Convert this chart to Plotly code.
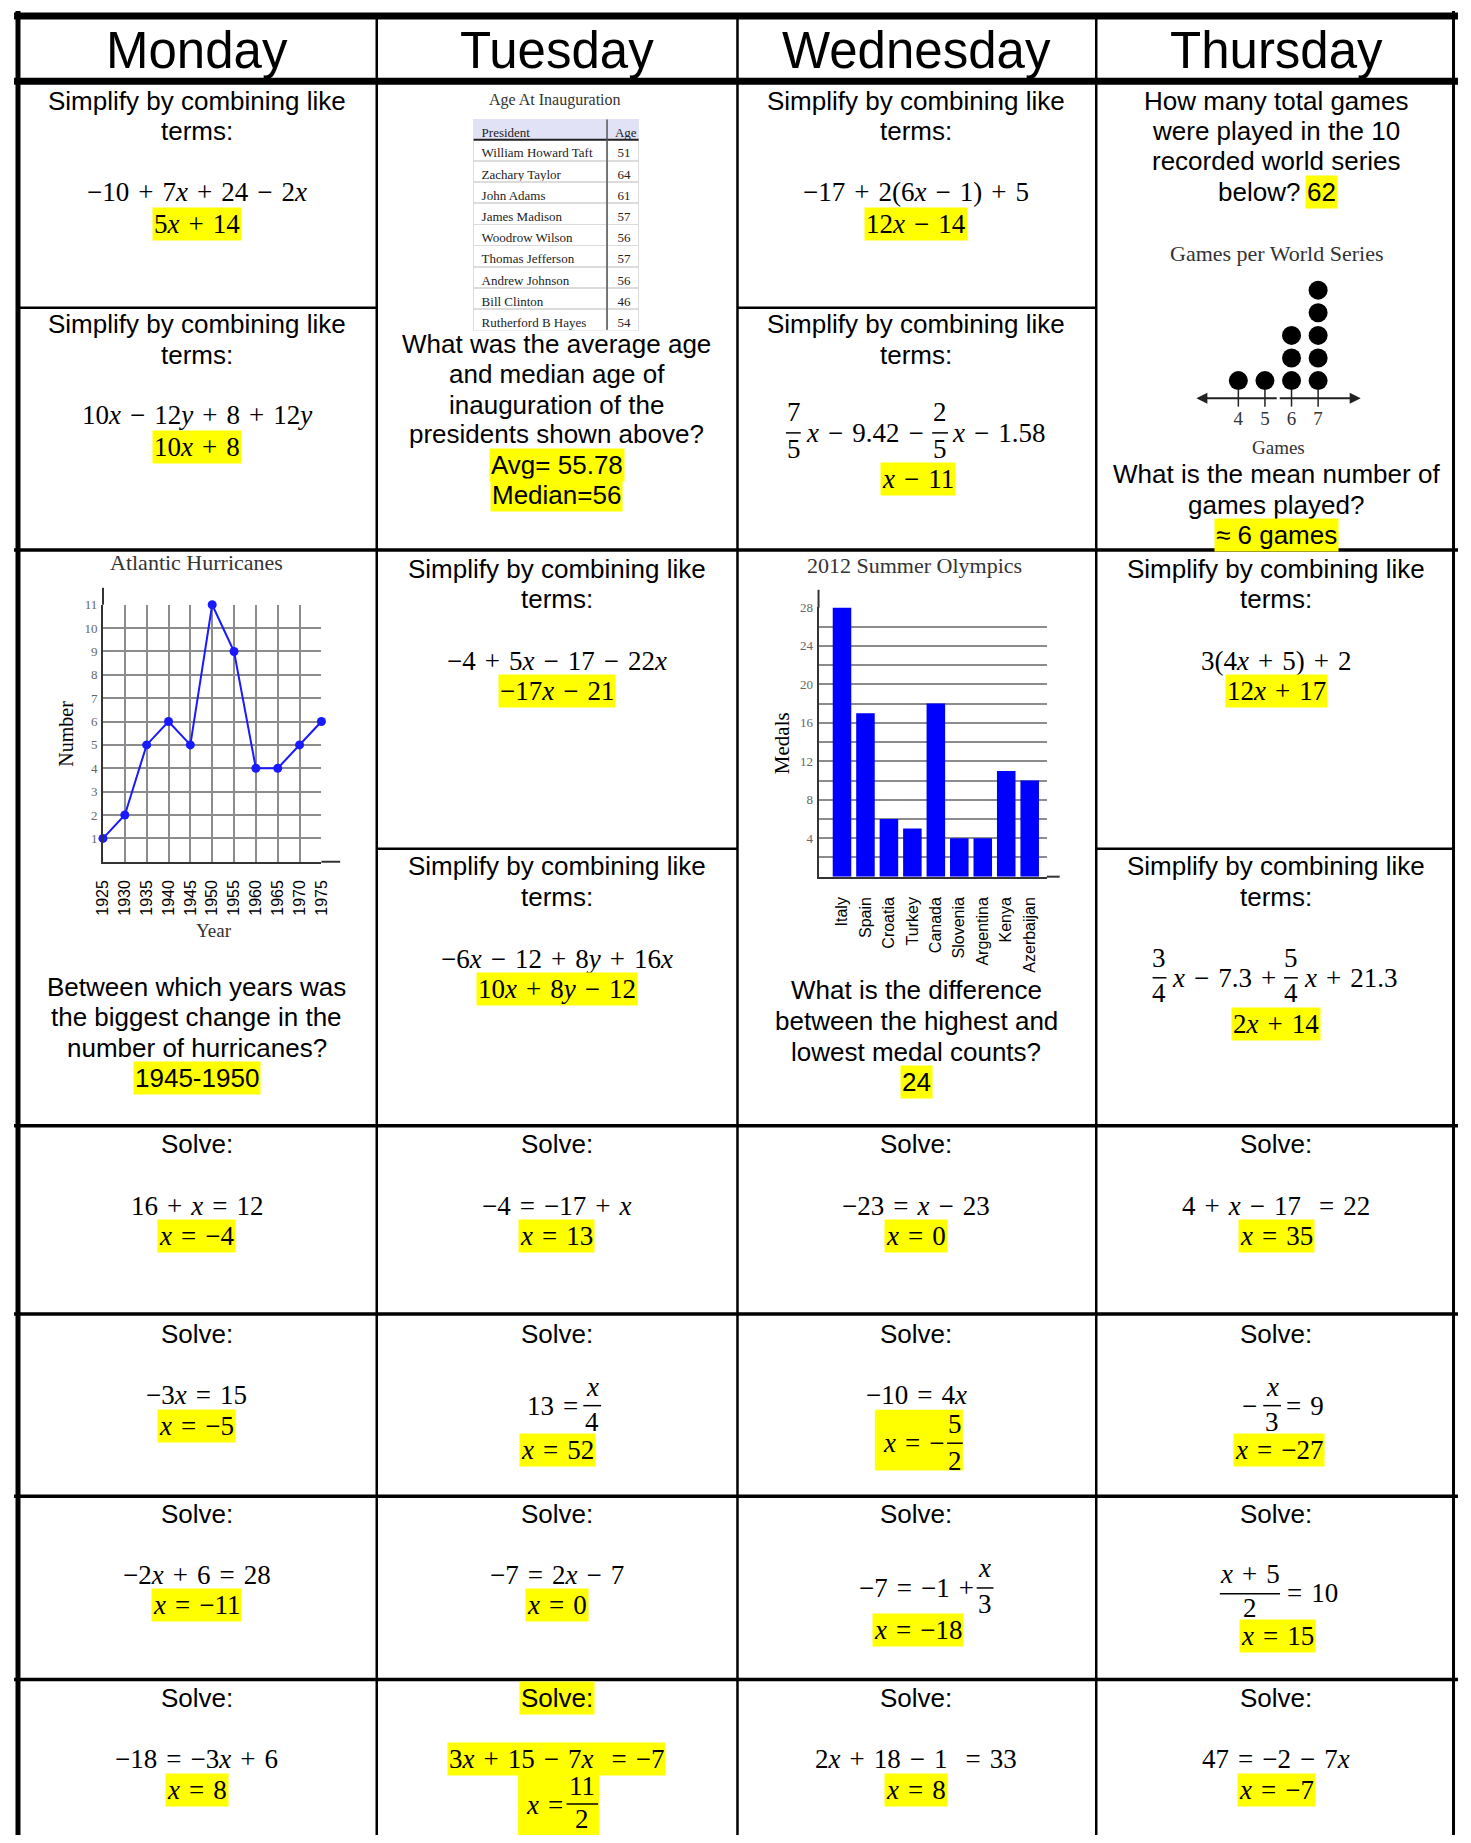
import plotly.graph_objects as go

# ---------------- data ----------------
hurr_years = [1925, 1930, 1935, 1940, 1945, 1950, 1955, 1960, 1965, 1970, 1975]
hurr_counts = [1, 2, 5, 6, 5, 11, 9, 4, 4, 5, 6]

oly_countries = ["Italy", "Spain", "Croatia", "Turkey", "Canada", "Slovenia", "Argentina", "Kenya", "Azerbaijan"]
oly_medals = [28, 17, 6, 5, 18, 4, 4, 11, 10]

ws_games = [4, 5, 6, 7]
ws_counts = [1, 1, 3, 5]

presidents = ["William Howard Taft", "Zachary Taylor", "John Adams", "James Madison", "Woodrow Wilson",
              "Thomas Jefferson", "Andrew Johnson", "Bill Clinton", "Rutherford B Hayes"]
pres_ages = [51, 64, 61, 57, 56, 57, 56, 46, 54]

days = ["Monday", "Tuesday", "Wednesday", "Thursday"]

# ---------------- helpers ----------------
W, H = 1471, 1843          # page size
OFF = 8                    # default body margin of the page
FW, FH = W - 2 * OFF, H - 2 * OFF
SANS = "Liberation Sans, Arial, sans-serif"
SERIF = "Liberation Serif, Times New Roman, serif"
YEL = "#FFFF00"
MSIZE = 27

def PX(x):
    return (x - OFF) / FW

def PY(y):
    return 1 - (y - OFF) / FH

def dx(x0, x1):
    return [PX(x0), PX(x1)]

def dy(y0, y1):
    return [PY(y1), PY(y0)]

annotations = []
shapes = []

def txt(s, x, y, size=26, font=SANS, color="black", xanchor="center", bg=None, angle=0):
    annotations.append(dict(
        text=s, x=PX(x), y=PY(y), xref="paper", yref="paper",
        xanchor=xanchor, yanchor="middle", showarrow=False, textangle=angle,
        font=dict(family=font, size=size, color=color),
        bgcolor=bg if bg else "rgba(0,0,0,0)", borderpad=1 if bg else 0))

def m(s):
    s = s.replace(" ", "\u2004")
    s = s.replace("x", "<i>x</i>").replace("y", "<i>y</i>")
    return s

def mt(s, x, y, bg=None, xanchor="center", size=MSIZE):
    txt(m(s), x, y, size=size, font=SERIF, bg=bg, xanchor=xanchor)

def line(x0, y0, x1, y1, w=2, color="black"):
    shapes.append(dict(type="line", xref="paper", yref="paper",
                       x0=PX(x0), x1=PX(x1), y0=PY(y0), y1=PY(y1),
                       line=dict(color=color, width=w), layer="above"))

def rect(x0, y0, x1, y1, color=YEL):
    shapes.append(dict(type="rect", xref="paper", yref="paper",
                       x0=PX(x0), x1=PX(x1), y0=PY(y1), y1=PY(y0),
                       line=dict(width=0), fillcolor=color, layer="below"))

def frac_bar(x0, x1, y):
    line(x0, y, x1, y, w=1.5)

# ---------------- grid lines ----------------
COLS = [9, 372, 737, 1100, 1463]
CX = [190, 554, 918, 1282]
line(5, 9, 1466, 9, w=7)            # top
line(9, 4, 9, H, w=5)               # left
line(1461.5, 4, 1461.5, H, w=3)     # right
line(5, 74.5, 1466, 74.5, w=7)      # header bottom
for c in COLS[1:4]:
    line(c, 8, c, H, w=2.5)
for r in [545, 1123, 1312, 1495, 1679]:
    line(5, r, 1466, r, w=3.5)
line(9, 302, 372, 302, w=2.5)
line(737, 302, 1100, 302, w=2.5)
line(372, 845, 737, 845, w=2.5)
line(1100, 845, 1463, 845, w=2.5)

# ---------------- header ----------------
for d, cx in zip(days, CX):
    txt(d, cx, 43.5, size=51)

# ---------------- row 1 ----------------
def simplify(cx, y):
    txt("Simplify by combining like", cx, y)
    txt("terms:", cx, y + 30.6)

simplify(CX[0], 94)
mt("−10 + 7x + 24 − 2x", CX[0], 185.7)
mt("5x + 14", CX[0], 217.4, bg=YEL)
simplify(CX[0], 318.5)
mt("10x − 12y + 8 + 12y", CX[0], 410)
mt("10x + 8", CX[0], 442, bg=YEL)

txt("Age At Inauguration", 552, 93, size=16, font=SERIF, color="#333")
txt("What was the average age", CX[1], 338)
txt("and median age of", CX[1], 368.5)
txt("inauguration of the", CX[1], 399)
txt("presidents shown above?", CX[1], 429)
txt("Avg= 55.78", CX[1], 459.6, bg=YEL)
txt("Median=56", CX[1], 490, bg=YEL)

simplify(CX[2], 94)
mt("−17 + 2(6x − 1) + 5", CX[2], 185.7)
mt("12x − 14", CX[2], 217.4, bg=YEL)
simplify(CX[2], 318.5)
mt("7", 794, 407); frac_bar(786, 801, 427.5); mt("5", 794, 444)
mt("x − 9.42 −", 805, 428, xanchor="left")
mt("2", 942, 407); frac_bar(934, 950, 427.5); mt("5", 942, 444)
mt("x − 1.58", 953, 428, xanchor="left")
mt("x − 11", 919.6, 474, bg=YEL)

txt("How many total games", CX[3], 94)
txt("were played in the 10", CX[3], 124.6)
txt("recorded world series", CX[3], 155)
txt("below?", 1307, 185.7, xanchor="right")
txt("62", 1311, 185.7, xanchor="left", bg=YEL)
txt("Games per World Series", 1283, 247, size=22, font=SERIF, color="#333")
txt("Games", 1284, 442, size=19, font=SERIF, color="#333")
txt("What is the mean number of", CX[3], 469)
txt("games played?", CX[3], 499.5)
txt("≈ 6 games", CX[3], 530, bg=YEL)

# ---------------- row 2 ----------------
txt("Atlantic Hurricanes", 190, 558, size=22, font=SERIF, color="#333")
txt("Number", 58, 729, size=20, font=SERIF, angle=-90)
txt("Year", 207, 927, size=19, font=SERIF, color="#333")
txt("Between which years was", CX[0], 984)
txt("the biggest change in the", CX[0], 1014)
txt("number of hurricanes?", CX[0], 1045)
txt("1945-1950", CX[0], 1075.5, bg=YEL)

simplify(CX[1], 564)
mt("−4 + 5x − 17 − 22x", CX[1], 656)
mt("−17x − 21", CX[1], 686.5, bg=YEL)
simplify(CX[1], 862.7)
mt("−6x − 12 + 8y + 16x", CX[1], 955.6)
mt("10x + 8y − 12", CX[1], 986, bg=YEL)

txt("2012 Summer Olympics", 916, 561, size=22, font=SERIF, color="#333")
txt("Medals", 782, 739, size=21, font=SERIF, angle=-90)
txt("What is the difference", CX[2], 987)
txt("between the highest and", CX[2], 1018)
txt("lowest medal counts?", CX[2], 1048.5)
txt("24", CX[2], 1079, bg=YEL)

simplify(CX[3], 564)
mt("3(4x + 5) + 2", CX[3], 656)
mt("12x + 17", CX[3], 686.5, bg=YEL)
simplify(CX[3], 862.7)
mt("3", 1164, 955); frac_bar(1157, 1171, 974.5); mt("4", 1164, 990)
mt("x − 7.3 +", 1176, 975, xanchor="left")
mt("5", 1297, 955); frac_bar(1290, 1304, 974.5); mt("4", 1297, 990)
mt("x + 21.3", 1309, 975, xanchor="left")
mt("2x + 14", CX[3], 1020.5, bg=YEL)

# ---------------- row 3 ----------------
for cx in CX:
    txt("Solve:", cx, 1141)
eqs3 = [("16 + x = 12", "x = −4"), ("−4 = −17 + x", "x = 13"),
        ("−23 = x − 23", "x = 0"), ("4 + x − 17  = 22", "x = 35")]
for cx, (e, a) in zip(CX, eqs3):
    mt(e, cx, 1203.6)
    mt(a, cx, 1234, bg=YEL)

# ---------------- row 4 ----------------
for cx in CX:
    txt("Solve:", cx, 1332)
mt("−3x = 15", CX[0], 1393)
mt("x = −5", CX[0], 1424.6, bg=YEL)
mt("13 =", 577, 1404, xanchor="right"); mt("x", 590, 1385); frac_bar(581, 599, 1404); mt("4", 590, 1420)
mt("x = 52", 555, 1449, bg=YEL)
mt("−10 = 4x", CX[2], 1393)
rect(876, 1408, 965, 1469)
mt("x = −", 947, 1441.7, xanchor="right"); mt("5", 957, 1422); frac_bar(949, 965, 1441.7); mt("2", 957, 1460)
mt("−", 1264, 1404, xanchor="right"); mt("x", 1278, 1385); frac_bar(1269, 1287, 1404); mt("3", 1278, 1420)
mt("= 9", 1291, 1404, xanchor="left")
mt("x = −27", 1284.5, 1449, bg=YEL)

# ---------------- row 5 ----------------
for cx in CX:
    txt("Solve:", cx, 1513)
mt("−2x + 6 = 28", CX[0], 1574)
mt("x = −11", CX[0], 1604.5, bg=YEL)
mt("−7 = 2x − 7", CX[1], 1574)
mt("x = 0", CX[1], 1604.5, bg=YEL)
mt("−7 = −1 +", 977, 1587, xanchor="right"); mt("x", 987, 1567); frac_bar(979, 996, 1587); mt("3", 987, 1603)
mt("x = −18", 919.5, 1629, bg=YEL)
mt("x + 5", 1255.5, 1572.7); frac_bar(1225, 1286, 1592.7); mt("2", 1255.5, 1607)
mt("= 10", 1292, 1591.7, xanchor="left")
mt("x = 15", 1283.5, 1635, bg=YEL)

# ---------------- row 6 ----------------
txt("Solve:", CX[0], 1697)
txt("Solve:", CX[1], 1697, bg=YEL)
txt("Solve:", CX[2], 1697)
txt("Solve:", CX[3], 1697)
mt("−18 = −3x + 6", CX[0], 1758.5)
mt("x = 8", CX[0], 1790, bg=YEL)
mt("3x + 15 − 7x  = −7", CX[1], 1758.5, bg=YEL)
rect(515, 1773, 597, 1835)
mt("x =", 561, 1805, xanchor="right"); mt("11", 580, 1786); frac_bar(564, 596, 1804); mt("2", 580, 1819)
mt("2x + 18 − 1  = 33", CX[2], 1758.5)
mt("x = 8", CX[2], 1790, bg=YEL)
mt("47 = −2 − 7x", CX[3], 1758.5)
mt("x = −7", CX[3], 1790, bg=YEL)

# ---------------- figure & charts ----------------
fig = go.Figure()

GRID = "#8c8c8c"
AX = "#333333"

# Atlantic Hurricanes
fig.add_trace(go.Scatter(x=hurr_years, y=hurr_counts, mode="lines+markers",
                         line=dict(color="#1a1aff", width=2),
                         marker=dict(color="#1a1aff", size=9),
                         cliponaxis=False, xaxis="x", yaxis="y", hoverinfo="skip"))
line(95, 600, 95, 583, w=2, color=AX)
line(316, 858, 335, 858, w=2, color=AX)

# Olympics
fig.add_trace(go.Bar(x=oly_countries, y=oly_medals, marker=dict(color="#0000ff", line=dict(width=0)),
                     width=0.79, xaxis="x2", yaxis="y2", hoverinfo="skip"))
line(819, 603, 819, 585, w=2, color=AX)
line(1050, 873, 1063, 873, w=2, color=AX)

# Games per World Series dot plot
dot_x, dot_y = [], []
for g, c in zip(ws_games, ws_counts):
    for k in range(1, c + 1):
        dot_x.append(g)
        dot_y.append(k)
NL = 0.22
fig.add_trace(go.Scatter(x=ws_games, y=[NL] * len(ws_games), mode="markers",
                         marker=dict(symbol="line-ns", size=12, line=dict(width=1.5, color="#222")),
                         xaxis="x3", yaxis="y3", hoverinfo="skip", cliponaxis=False))
fig.add_trace(go.Scatter(x=dot_x, y=dot_y, mode="markers",
                         marker=dict(color="black", size=19),
                         xaxis="x3", yaxis="y3", hoverinfo="skip", cliponaxis=False))
for tip in [8.6, 2.42]:
    annotations.append(dict(x=tip, y=NL, ax=5.5, ay=NL, xref="x3", yref="y3", axref="x3", ayref="y3",
                            text="", showarrow=True, arrowhead=2, arrowsize=1.1, arrowwidth=2,
                            arrowcolor="#222", standoff=0, startstandoff=0))

# Presidents table
fig.add_trace(go.Table(
    domain=dict(x=dx(470, 637), y=dy(113, 325)),
    columnwidth=[135, 32],
    header=dict(values=["President", "Age"], fill_color="#e2e2f7",
                line=dict(color="#e2e2f7", width=1), align=["left", "left"], height=20,
                font=dict(family=SERIF, size=13, color="#222")),
    cells=dict(values=[presidents, pres_ages], fill_color="white",
               line=dict(color="#dcdcdc", width=1.5), align=["left", "right"], height=21.2,
               font=dict(family=SERIF, size=13, color="#222"))))
line(470, 133.3, 637, 133.3, w=2, color="#222")
line(605, 113, 605, 324, w=1.5, color="#555")

fig.update_layout(
    width=FW, height=FH, margin=dict(l=0, r=0, t=0, b=0),
    paper_bgcolor="white", plot_bgcolor="white", showlegend=False,
    annotations=annotations, shapes=shapes,
    xaxis=dict(domain=dx(95, 316), range=[1925, 1975], tickvals=hurr_years, tickangle=-90,
               tickfont=dict(family=SANS, size=16, color="black"), showgrid=True, gridcolor=GRID,
               gridwidth=1.5, showline=True, linecolor=AX, linewidth=2, zeroline=False, ticks="",
               ticklabelstandoff=10, anchor="y", fixedrange=True),
    yaxis=dict(domain=dy(600, 858), range=[0, 11], tickvals=list(range(1, 12)),
               tickfont=dict(family=SERIF, size=13, color="#666"), showgrid=True, gridcolor=GRID,
               gridwidth=1.5, showline=True, linecolor=AX, linewidth=2, zeroline=False, ticks="",
               ticklabelstandoff=1, anchor="x", fixedrange=True),
    xaxis2=dict(domain=dx(819, 1050), type="category", range=[-1.0, 8.73], tickangle=-90,
                tickfont=dict(family=SANS, size=16, color="black"), showgrid=False,
                showline=True, linecolor=AX, linewidth=2, zeroline=False, ticks="",
                ticklabelstandoff=12, anchor="y2", fixedrange=True),
    yaxis2=dict(domain=dy(602.7, 873), range=[0, 28], tickvals=list(range(2, 29, 2)),
                ticktext=[str(v) if v % 4 == 0 else "" for v in range(2, 29, 2)],
                tickfont=dict(family=SERIF, size=13, color="#666"), showgrid=True, gridcolor=GRID,
                gridwidth=1.5, showline=True, linecolor=AX, linewidth=2, zeroline=False, ticks="",
                ticklabelstandoff=1, anchor="x2", fixedrange=True),
    xaxis3=dict(domain=dx(1200, 1368), range=[2.372, 8.617], tickvals=ws_games,
                tickfont=dict(family=SERIF, size=19, color="#333"), showgrid=False, showline=False,
                zeroline=False, ticks="", anchor="y3", fixedrange=True),
    yaxis3=dict(domain=dy(270, 400), range=[-0.101, 5.626], visible=False, anchor="x3",
                fixedrange=True),
)

fig.write_html("out.html", config={"displayModeBar": False})
